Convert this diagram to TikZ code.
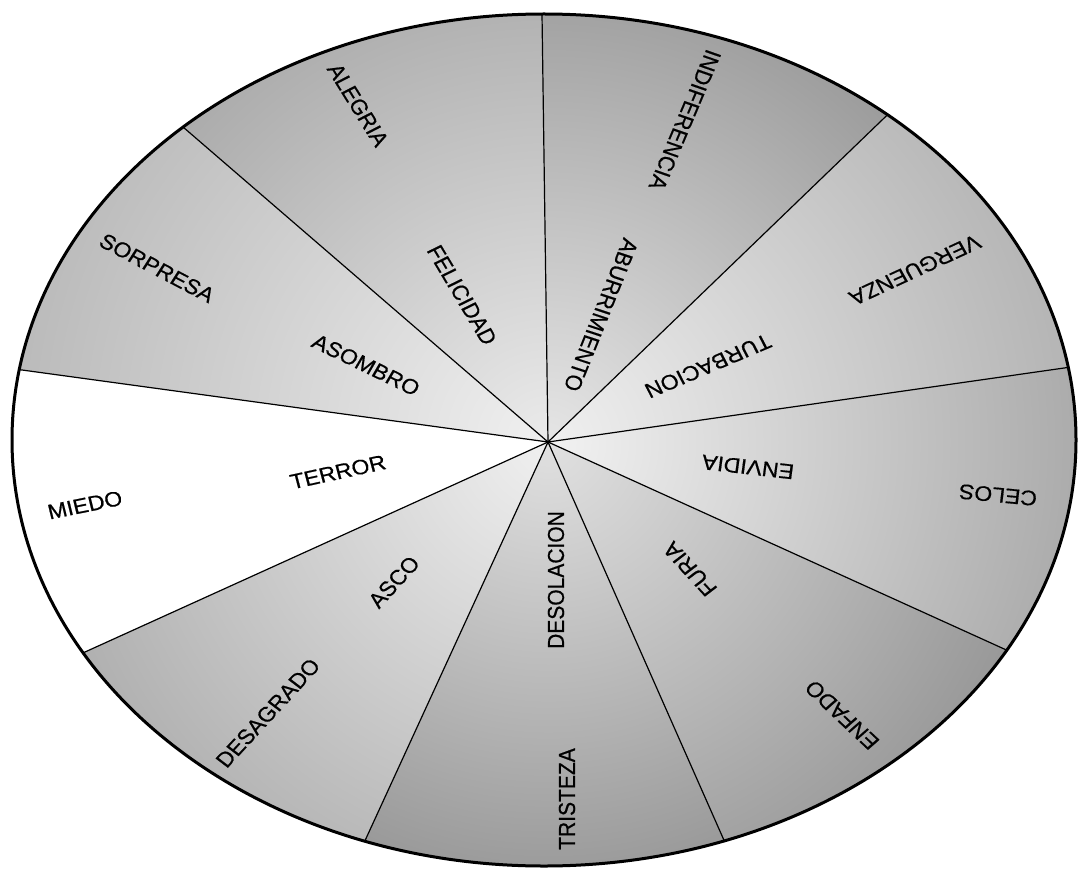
\documentclass[tikz,border=0pt]{standalone}
\usepackage{fontspec}
\setmainfont{Liberation Sans}
\newfontfamily\labfont[FakeBold=0.6]{Liberation Sans}
\usetikzlibrary{calc}
\definecolor{alegIn}{gray}{0.92}\definecolor{alegOut}{gray}{0.50}
\definecolor{indiIn}{gray}{0.90}\definecolor{indiOut}{gray}{0.40}
\definecolor{vergIn}{gray}{0.94}\definecolor{vergOut}{gray}{0.58}
\definecolor{celoIn}{gray}{0.95}\definecolor{celoOut}{gray}{0.52}
\definecolor{enfaIn}{gray}{0.88}\definecolor{enfaOut}{gray}{0.42}
\definecolor{trisIn}{gray}{0.88}\definecolor{trisOut}{gray}{0.36}
\definecolor{desaIn}{gray}{0.94}\definecolor{desaOut}{gray}{0.54}
\definecolor{sorpIn}{gray}{0.94}\definecolor{sorpOut}{gray}{0.62}
\tikzset{
  lab/.style={font=\labfont\fontsize{21}{24}\selectfont, inner sep=0pt, anchor=center, xscale=1.1},
  spoke/.style={draw=black, line width=1.2pt},
  rim/.style={draw=black, line width=3pt},
}
\newcommand{\sector}[4]{%
  \begin{scope}
    \clip (C) -- ($(C)!3!(#1)$) -- ($(C)!3!(#2)$) -- cycle;
    \shade[inner color=#3, outer color=#4] (C) circle (820);
  \end{scope}}
\begin{document}
\begin{tikzpicture}[x=1pt,y=-1pt]
\useasboundingbox (0,0) rectangle (1078,869);
\fill[white] (0,0) rectangle (1078,869);
\coordinate (E) at (544,440);
\coordinate (C) at (548,442);
\coordinate (p1) at (542,14);
\coordinate (p2) at (880,122);
\coordinate (p3) at (1071,367);
\coordinate (p4) at (1002,648);
\coordinate (p5) at (723,838);
\coordinate (p6) at (363,845);
\coordinate (p7) at (85,652);
\coordinate (p8) at (22,370);
\coordinate (p9) at (183,127);
\begin{scope}
  \clip (E) ellipse [x radius=532, y radius=426];
  \sector{p9}{p1}{alegIn}{alegOut}
  \sector{p1}{p2}{indiIn}{indiOut}
  \sector{p2}{p3}{vergIn}{vergOut}
  \sector{p3}{p4}{celoIn}{celoOut}
  \sector{p4}{p5}{enfaIn}{enfaOut}
  \sector{p5}{p6}{trisIn}{trisOut}
  \sector{p6}{p7}{desaIn}{desaOut}
  \sector{p7}{p8}{white}{white}
  \sector{p8}{p9}{sorpIn}{sorpOut}
  \foreach \p in {p1,p2,p3,p4,p5,p6,p7,p8,p9}
    \draw[spoke] (C) -- ($(C)!1.5!(\p)$);
\end{scope}
\draw[rim] (E) ellipse [x radius=532, y radius=426];
% labels
\node[lab, rotate=-60.5] (alegria) at (358,105) {ALEGRIA};
\node[lab, rotate=-61.5] (felicidad) at (462,295) {FELICIDAD};
\node[lab, rotate=-111] (indiferencia) at (685,120) {INDIFERENCIA};
\node[lab, rotate=-110] (aburrimiento) at (601,315) {ABURRIMIENTO};
\node[lab, rotate=-153] (verguenza) at (915,270) {VERGUENZA};
\node[lab, rotate=-155] (turbacion) at (708,366) {TURBACION};
\node[lab, rotate=174] (celos) at (998,495) {CELOS};
\node[lab, rotate=173] (envidia) at (748,467) {ENVIDIA};
\node[lab, rotate=134] (enfado) at (842,715) {ENFADO};
\node[lab, rotate=130] (furia) at (690,569) {FURIA};
\node[lab, rotate=90] (tristeza) at (567,799) {TRISTEZA};
\node[lab, rotate=90] (desolacion) at (556,580) {DESOLACION};
\node[lab, rotate=50] (desagrado) at (268,713) {DESAGRADO};
\node[lab, rotate=50] (asco) at (394,582) {ASCO};
\node[lab, rotate=12.5] (miedo) at (85,505) {MIEDO};
\node[lab, rotate=13.5] (terror) at (338,472) {TERROR};
\node[lab, rotate=-30] (sorpresa) at (157,268) {SORPRESA};
\node[lab, rotate=-28] (asombro) at (366,365) {ASOMBRO};
\end{tikzpicture}
\end{document}
